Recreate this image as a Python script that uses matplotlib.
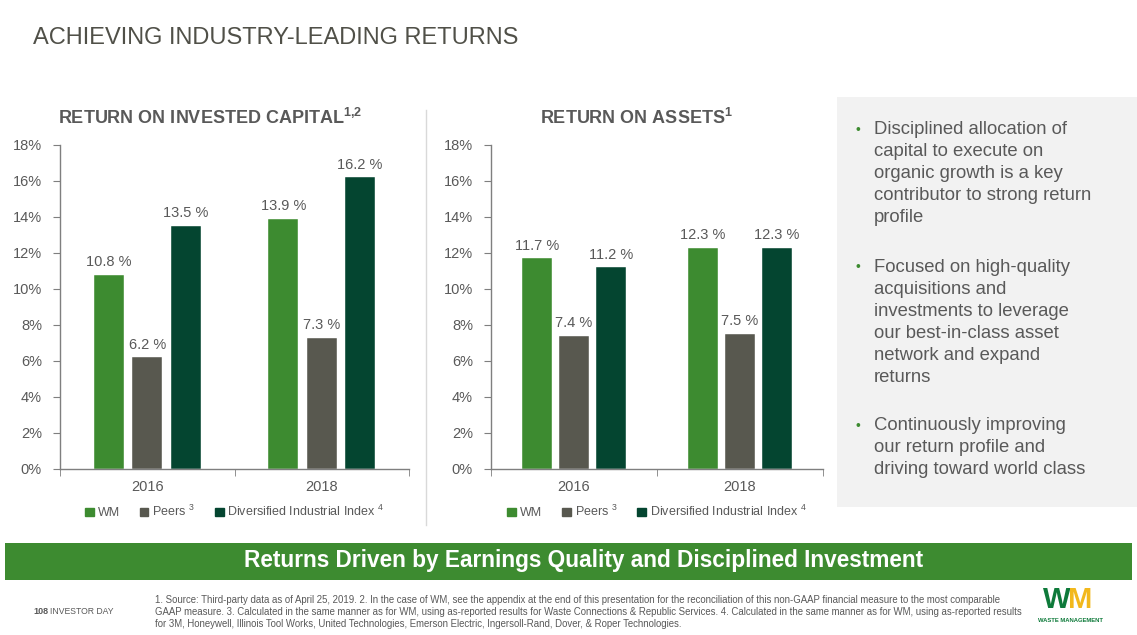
import matplotlib

matplotlib.use("Agg")
import matplotlib.pyplot as plt
import numpy as np
from matplotlib.patches import Patch, Rectangle

plt.rcParams["font.family"] = ["Liberation Sans", "DejaVu Sans"]
plt.rcParams["mathtext.fontset"] = "custom"
plt.rcParams["mathtext.rm"] = "Liberation Sans"
plt.rcParams["mathtext.bf"] = "Liberation Sans:bold"

# data
years = ["2016", "2018"]
series = ["WM", "Peers", "Diversified Industrial Index"]
series_labels = ["WM", "Peers $^{3}$", "Diversified Industrial Index $^{4}$"]
roic = {"WM": [10.8, 13.9], "Peers": [6.2, 7.3], "Diversified Industrial Index": [13.5, 16.2]}
roa = {"WM": [11.7, 12.3], "Peers": [7.4, 7.5], "Diversified Industrial Index": [11.2, 12.3]}
yticks = [0, 2, 4, 6, 8, 10, 12, 14, 16, 18]

bullets = [
    ["Disciplined allocation of", "capital to execute on", "organic growth is a key",
     "contributor to strong return", "profile"],
    ["Focused on high-quality", "acquisitions and", "investments to leverage",
     "our best-in-class asset", "network and expand", "returns"],
    ["Continuously improving", "our return profile and", "driving toward world class"],
]
footnote = [
    "1. Source: Third-party data as of April 25, 2019. 2. In the case of WM, see the appendix at the end of this presentation for the reconciliation of this non-GAAP financial measure to the most comparable",
    "GAAP measure. 3. Calculated in the same manner as for WM, using as-reported results for Waste Connections & Republic Services. 4. Calculated in the same manner as for WM, using as-reported results",
    "for 3M, Honeywell, Illinois Tool Works, United Technologies, Emerson Electric, Ingersoll-Rand, Dover, & Roper Technologies.",
]

colors = {"WM": "#3d8b30", "Peers": "#58584f", "Diversified Industrial Index": "#044530"}
TXT = "#595959"
W, H = 1137, 635

fig = plt.figure(figsize=(W / 100, H / 100), dpi=100)


def fx(px):
    return px / W


def fy(py):
    return 1 - py / H


def px_axes(left, top, right, bottom):
    return fig.add_axes([fx(left), fy(bottom), fx(right - left), (bottom - top) / H])


def bar_chart(ax, data, width, step):
    x = np.arange(len(years)) + 0.5
    for i, s in enumerate(series):
        xs = x + (i - 1) * step
        bars = ax.bar(xs, data[s], width, color=colors[s], edgecolor="white", linewidth=0.3)
        for b, v in zip(bars, data[s]):
            ax.annotate(f"{v:.1f} %", (b.get_x() + b.get_width() / 2, v),
                        xytext=(0, 4), textcoords="offset points",
                        ha="center", va="bottom", fontsize=10.5, color=TXT)
    ax.set_xlim(0, len(years))
    ax.set_ylim(0, 18)
    ax.set_yticks(yticks)
    ax.set_yticklabels([f"{t}%" for t in yticks], fontsize=10.5, color=TXT)
    ax.set_xticks(x)
    ax.set_xticklabels(years, fontsize=10.5, color=TXT)
    ax.tick_params(axis="x", length=0, pad=8)
    ax.set_xticks(np.arange(len(years) + 1), minor=True)
    ax.tick_params(axis="x", which="minor", length=5, color="#7f7f7f")
    ax.tick_params(axis="y", length=5, color="#7f7f7f", pad=8)
    for sp in ["top", "right"]:
        ax.spines[sp].set_visible(False)
    for sp in ["left", "bottom"]:
        ax.spines[sp].set_color("#7f7f7f")
        ax.spines[sp].set_linewidth(1.0)
    handles = [Patch(color=colors[s]) for s in series]
    ax.legend(handles, series_labels, loc="upper center", bbox_to_anchor=(0.5, -0.074),
              ncol=3, frameon=False, fontsize=9, handlelength=0.7, handleheight=0.7,
              handletextpad=0.3, columnspacing=1.6, labelcolor=TXT)


ax1 = px_axes(60, 145, 409, 469)
bar_chart(ax1, roic, 0.172, 0.22)
ax2 = px_axes(491, 145, 823, 469)
bar_chart(ax2, roa, 0.175, 0.223)

# titles
fig.text(fx(33), fy(38), "ACHIEVING INDUSTRY-LEADING RETURNS", fontsize=17,
         color="#505048", va="center", ha="left")
fig.text(fx(58), fy(118), r"RETURN ON INVESTED CAPITAL$^{\mathregular{1{,}2}}$", fontsize=13,
         fontweight="bold", color=TXT, va="center", ha="left")
fig.text(fx(540), fy(118), r"RETURN ON ASSETS$^{\mathregular{1}}$", fontsize=13,
         fontweight="bold", color=TXT, va="center", ha="left")

# separator between the two charts
fig.add_artist(plt.Line2D([fx(426), fx(426)], [fy(110), fy(525)], color="#d9d9d9", lw=1))

# grey panel with bullets
fig.add_artist(Rectangle((fx(837), fy(507)), fx(300), (507 - 97) / H,
                         facecolor="#f2f2f2", edgecolor="none", zorder=0))
y = 130
for para in bullets:
    fig.text(fx(858), fy(y), "•", fontsize=10, color="#3d8b30", va="center", ha="center")
    for line in para:
        fig.text(fx(874), fy(y), line, fontsize=13.3, color=TXT, va="center", ha="left")
        y += 22
    y += 27

# green banner
fig.add_artist(Rectangle((fx(5), fy(580)), fx(1127), 37 / H,
                         facecolor="#3d8b30", edgecolor="none"))
fig.text(fx(584), fy(561), "Returns Driven by Earnings Quality and Disciplined Investment",
         fontsize=16.3, fontweight="bold", color="white", va="center", ha="center")

# footer
for i, line in enumerate(footnote):
    fig.text(fx(155), fy(600 + 12 * i), line, fontsize=6.9, color=TXT, va="center", ha="left")
fig.text(fx(33), fy(612), "108", fontsize=6.5, fontweight="bold", color=TXT, va="center")
fig.text(fx(50), fy(612), "INVESTOR DAY", fontsize=6.2, color=TXT, va="center")
fig.text(fx(1070), fy(600), "W", fontsize=21, fontweight="bold", color="#0e7a3a",
         va="center", ha="right")
fig.text(fx(1068), fy(600), "M", fontsize=21, fontweight="bold", color="#f2b81c",
         va="center", ha="left")
fig.text(fx(1070), fy(621), "WASTE MANAGEMENT", fontsize=4.2, fontweight="bold",
         color="#0e7a3a", va="center", ha="center")

fig.savefig("out.png", dpi=100)
